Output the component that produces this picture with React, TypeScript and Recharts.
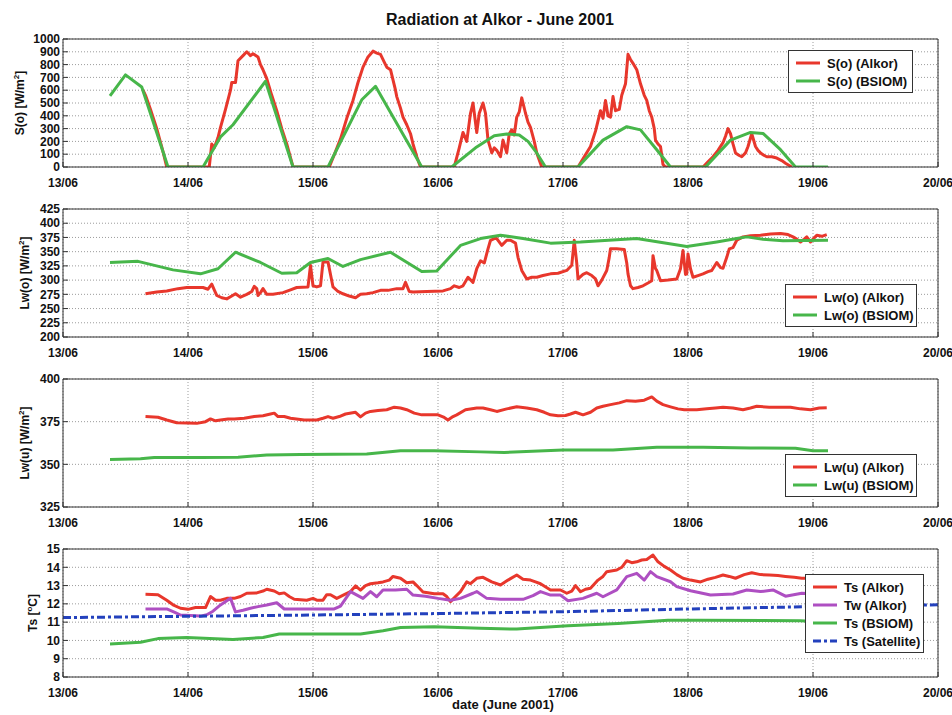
import React from "react";
import { LineChart, Line, XAxis, YAxis, CartesianGrid, Legend } from "recharts";

type Pt = [number, number];

// x axis: day of June 2001
const dayTicks = [13, 14, 15, 16, 17, 18, 19, 20];

// y ticks of the four panels
const soTicks = [0, 100, 200, 300, 400, 500, 600, 700, 800, 900, 1000];
const lwoTicks = [200, 225, 250, 275, 300, 325, 350, 375, 400, 425];
const lwuTicks = [325, 350, 375, 400];
const tsTicks = [8, 9, 10, 11, 12, 13, 14, 15];

// S(o) shortwave
const soAlkor: Pt[] = [
  [13.64, 600], [13.66, 560], [13.7, 450], [13.75, 300], [13.8, 120], [13.83, 0], [14.17, 0],
  [14.19, 180], [14.21, 150], [14.24, 230], [14.26, 310], [14.3, 450], [14.34, 600], [14.35, 660],
  [14.38, 660], [14.4, 830], [14.44, 870], [14.47, 900], [14.5, 870], [14.52, 885], [14.56, 860],
  [14.58, 800], [14.6, 760], [14.63, 690], [14.67, 560], [14.71, 440], [14.75, 300], [14.79, 180],
  [14.84, 0], [15.13, 0], [15.18, 120], [15.22, 220], [15.27, 380], [15.32, 520], [15.36, 660],
  [15.4, 780], [15.44, 860], [15.48, 905], [15.51, 890], [15.54, 880], [15.57, 820], [15.59, 780],
  [15.62, 760], [15.64, 680], [15.66, 600], [15.67, 550], [15.7, 460], [15.72, 390], [15.75, 330],
  [15.78, 260], [15.8, 180], [15.83, 80], [15.86, 0], [16.13, 0], [16.17, 150], [16.2, 270],
  [16.23, 200], [16.26, 420], [16.28, 500], [16.31, 270], [16.33, 420], [16.36, 500], [16.38, 420],
  [16.4, 210], [16.43, 110], [16.45, 150], [16.47, 130], [16.5, 80], [16.52, 210], [16.55, 110],
  [16.57, 260], [16.59, 290], [16.61, 250], [16.63, 390], [16.65, 430], [16.67, 540], [16.7, 420],
  [16.72, 350], [16.74, 310], [16.77, 200], [16.79, 110], [16.83, 0], [17.12, 0], [17.17, 80],
  [17.22, 160], [17.26, 280], [17.3, 440], [17.32, 380], [17.34, 520], [17.36, 400], [17.38, 390],
  [17.4, 550], [17.42, 440], [17.45, 450], [17.47, 560], [17.5, 650], [17.52, 880], [17.54, 840],
  [17.56, 810], [17.59, 760], [17.62, 650], [17.65, 560], [17.67, 520], [17.69, 440], [17.71, 390],
  [17.73, 300], [17.74, 210], [17.76, 180], [17.78, 160], [17.8, 20], [17.82, 0], [18.12, 0],
  [18.16, 40], [18.2, 80], [18.24, 130], [18.28, 190], [18.3, 240], [18.32, 300], [18.34, 260],
  [18.36, 180], [18.38, 110], [18.41, 90], [18.43, 80], [18.46, 110], [18.48, 160], [18.51, 260],
  [18.54, 160], [18.56, 130], [18.58, 110], [18.61, 90], [18.63, 80], [18.67, 80], [18.71, 70],
  [18.75, 50], [18.78, 30], [18.83, 0],
];
const soBsiom: Pt[] = [
  [13.376, 555], [13.5, 720], [13.63, 625], [13.84, 0], [14.12, 0], [14.26, 235], [14.36, 330],
  [14.62, 670], [14.84, 0], [15.12, 0], [15.39, 525], [15.5, 630], [15.87, 0], [16.11, 0],
  [16.3, 150], [16.45, 245], [16.55, 258], [16.65, 250], [16.72, 200], [16.79, 110], [16.86, 0],
  [17.12, 0], [17.32, 210], [17.51, 315], [17.62, 290], [17.75, 135], [17.86, 0], [18.14, 0],
  [18.34, 210], [18.5, 270], [18.6, 262], [18.74, 135], [18.86, 0], [19.12, 0],
];

// Lw(o) longwave down
const lwoAlkor: Pt[] = [
  [13.66, 276], [13.75, 279], [13.83, 281], [13.92, 285], [13.99, 287], [14.12, 287], [14.16, 284],
  [14.19, 293], [14.21, 283], [14.23, 273], [14.27, 269], [14.31, 267], [14.35, 272], [14.38, 276],
  [14.42, 270], [14.47, 275], [14.51, 280], [14.53, 289], [14.55, 285], [14.56, 273], [14.58, 278],
  [14.6, 285], [14.63, 275], [14.68, 275], [14.76, 278], [14.82, 283], [14.87, 287], [14.96, 288],
  [14.98, 326], [15.0, 290], [15.03, 288], [15.06, 290], [15.08, 332], [15.12, 332], [15.14, 310],
  [15.16, 288], [15.2, 280], [15.24, 276], [15.29, 272], [15.34, 269], [15.38, 275], [15.43, 276],
  [15.48, 278], [15.54, 282], [15.6, 282], [15.67, 285], [15.72, 285], [15.74, 296], [15.77, 280],
  [15.8, 279], [15.91, 280], [16.04, 281], [16.1, 285], [16.13, 290], [16.17, 287], [16.2, 290],
  [16.24, 305], [16.28, 296], [16.31, 320], [16.34, 334], [16.37, 330], [16.4, 355], [16.42, 370],
  [16.45, 373], [16.47, 373], [16.51, 361], [16.55, 370], [16.58, 370], [16.62, 365], [16.64, 340],
  [16.67, 317], [16.71, 302], [16.75, 305], [16.79, 305], [16.84, 308], [16.9, 311], [16.96, 312],
  [17.03, 317], [17.07, 326], [17.09, 370], [17.11, 330], [17.12, 302], [17.16, 310], [17.19, 313],
  [17.23, 308], [17.26, 302], [17.28, 290], [17.31, 300], [17.35, 317], [17.37, 340], [17.38, 355],
  [17.43, 355], [17.49, 354], [17.51, 330], [17.52, 311], [17.54, 290], [17.56, 285], [17.6, 287],
  [17.64, 290], [17.68, 295], [17.71, 299], [17.72, 343], [17.74, 320], [17.75, 317], [17.78, 299],
  [17.84, 300], [17.91, 302], [17.94, 320], [17.96, 352], [17.98, 310], [17.99, 311], [18.0, 346],
  [18.02, 320], [18.04, 305], [18.08, 308], [18.12, 311], [18.16, 315], [18.19, 317], [18.23, 331],
  [18.26, 322], [18.28, 321], [18.31, 340], [18.33, 355], [18.36, 357], [18.39, 370], [18.44, 376],
  [18.5, 378], [18.58, 379], [18.66, 381], [18.74, 382], [18.8, 380], [18.84, 376], [18.87, 372],
  [18.9, 367], [18.93, 372], [18.95, 376], [18.98, 367], [19.0, 372], [19.03, 379], [19.07, 377],
  [19.11, 380],
];
const lwoBsiom: Pt[] = [
  [13.376, 331], [13.6, 333], [13.88, 318], [14.1, 311], [14.24, 320], [14.38, 349], [14.58, 331],
  [14.75, 312], [14.87, 313], [14.98, 331], [15.12, 338], [15.24, 324], [15.38, 336], [15.62, 349],
  [15.87, 315], [15.99, 316], [16.18, 361], [16.34, 373], [16.5, 379], [16.68, 373], [16.9, 365],
  [17.14, 367], [17.59, 373], [17.99, 359], [18.23, 367], [18.39, 373], [18.47, 376], [18.6, 372],
  [18.76, 369], [19.12, 370],
];

// Lw(u) longwave up
const lwuAlkor: Pt[] = [
  [13.66, 378], [13.76, 377.6], [13.83, 376], [13.91, 374.4], [14.07, 374], [14.14, 375],
  [14.18, 376.6], [14.22, 375.5], [14.26, 376], [14.32, 376.5], [14.37, 376.6], [14.45, 377],
  [14.53, 378], [14.6, 378.5], [14.66, 379.5], [14.69, 380], [14.72, 378], [14.77, 378], [14.82, 377],
  [14.93, 376], [15.03, 376], [15.08, 377], [15.12, 378], [15.16, 377], [15.21, 378], [15.26, 379.5],
  [15.34, 380.5], [15.38, 377.8], [15.42, 380], [15.46, 381], [15.52, 381.5], [15.59, 382],
  [15.65, 383.5], [15.7, 383], [15.75, 382], [15.81, 380], [15.87, 379], [15.94, 379], [16.0, 379],
  [16.05, 377.5], [16.08, 376], [16.12, 378], [16.15, 379], [16.22, 382], [16.31, 383], [16.36, 383],
  [16.42, 382], [16.47, 381], [16.55, 382.5], [16.63, 383.7], [16.71, 383], [16.79, 382],
  [16.85, 380.5], [16.9, 379], [16.96, 378.5], [17.02, 378.6], [17.06, 379.5], [17.1, 380.5],
  [17.16, 379], [17.22, 380.5], [17.27, 383], [17.32, 384], [17.38, 385], [17.45, 386], [17.51, 387.3],
  [17.58, 387], [17.65, 387.6], [17.71, 389.5], [17.75, 387], [17.8, 385], [17.86, 383.7],
  [17.92, 382.5], [17.97, 382], [18.07, 382], [18.15, 382.5], [18.22, 383], [18.28, 383.5],
  [18.36, 383], [18.44, 382], [18.5, 383], [18.55, 384], [18.65, 383.5], [18.74, 383.5],
  [18.82, 383.5], [18.9, 382.5], [18.98, 382], [19.05, 383], [19.11, 383.2],
];
const lwuBsiom: Pt[] = [
  [13.376, 352.9], [13.62, 353.3], [13.73, 354], [14.1, 354], [14.4, 354.2], [14.63, 355.5],
  [14.9, 355.7], [15.43, 356], [15.7, 358], [15.97, 358], [16.34, 357.3], [16.53, 357], [17.0, 358.4],
  [17.4, 358.4], [17.75, 360], [18.12, 360], [18.5, 359.6], [18.86, 359.4], [19.0, 358], [19.12, 358],
];

// surface / water temperature
const tsAlkor: Pt[] = [
  [13.66, 12.52], [13.76, 12.5], [13.83, 12.2], [13.88, 11.95], [13.94, 11.76], [14.0, 11.7],
  [14.06, 11.8], [14.14, 11.8], [14.18, 12.4], [14.22, 12.2], [14.26, 12.2], [14.31, 12.3],
  [14.37, 12.3], [14.42, 12.4], [14.47, 12.58], [14.55, 12.6], [14.6, 12.7], [14.63, 12.8],
  [14.69, 12.7], [14.73, 12.55], [14.77, 12.6], [14.81, 12.4], [14.85, 12.25], [14.95, 12.2],
  [15.0, 12.3], [15.03, 12.2], [15.08, 12.2], [15.11, 12.5], [15.14, 12.5], [15.19, 12.3],
  [15.25, 12.5], [15.3, 12.67], [15.34, 12.98], [15.38, 12.75], [15.42, 13.0], [15.46, 13.1],
  [15.52, 13.15], [15.56, 13.2], [15.61, 13.3], [15.64, 13.5], [15.7, 13.4], [15.75, 13.15],
  [15.8, 13.2], [15.83, 13.0], [15.88, 12.65], [15.97, 12.55], [16.04, 12.55], [16.07, 12.4],
  [16.1, 12.12], [16.14, 12.4], [16.18, 12.67], [16.23, 13.2], [16.26, 13.1], [16.31, 13.4],
  [16.36, 13.45], [16.43, 13.2], [16.5, 13.03], [16.56, 13.3], [16.63, 13.58], [16.68, 13.35],
  [16.74, 13.3], [16.78, 13.2], [16.82, 13.1], [16.9, 12.76], [16.98, 12.76], [17.03, 12.58],
  [17.07, 12.7], [17.1, 13.0], [17.14, 12.66], [17.18, 12.8], [17.22, 12.85], [17.28, 13.3],
  [17.32, 13.5], [17.35, 13.76], [17.43, 13.85], [17.47, 14.0], [17.51, 14.36], [17.55, 14.25],
  [17.59, 14.3], [17.63, 14.4], [17.67, 14.43], [17.72, 14.67], [17.76, 14.3], [17.81, 14.05],
  [17.86, 13.85], [17.91, 13.6], [17.96, 13.4], [18.02, 13.3], [18.1, 13.2], [18.16, 13.35],
  [18.22, 13.45], [18.28, 13.58], [18.33, 13.5], [18.38, 13.4], [18.45, 13.6], [18.51, 13.7],
  [18.58, 13.6], [18.65, 13.58], [18.72, 13.55], [18.78, 13.5], [18.85, 13.45], [18.91, 13.4],
  [19.0, 13.4], [19.12, 13.35],
];
const twAlkor: Pt[] = [
  [13.66, 11.72], [13.83, 11.72], [13.89, 11.55], [13.94, 11.39], [14.1, 11.33], [14.15, 11.4],
  [14.2, 11.6], [14.26, 11.94], [14.34, 12.3], [14.38, 11.56], [14.44, 11.65], [14.5, 11.76],
  [14.56, 11.85], [14.63, 11.94], [14.71, 12.06], [14.77, 11.72], [14.9, 11.72], [15.17, 11.72],
  [15.22, 11.88], [15.3, 12.67], [15.4, 12.3], [15.46, 12.67], [15.51, 12.39], [15.56, 12.76],
  [15.66, 12.76], [15.75, 12.8], [15.8, 12.48], [15.9, 12.42], [16.0, 12.3], [16.1, 12.2],
  [16.18, 12.3], [16.28, 12.58], [16.31, 12.67], [16.39, 12.3], [16.5, 12.25], [16.68, 12.25],
  [16.76, 12.45], [16.82, 12.67], [16.9, 12.48], [16.98, 12.48], [17.04, 12.17], [17.16, 12.3],
  [17.27, 12.58], [17.32, 12.39], [17.43, 12.76], [17.51, 13.49], [17.59, 13.67], [17.65, 13.3],
  [17.7, 13.76], [17.75, 13.49], [17.86, 13.21], [17.91, 12.94], [18.02, 12.72], [18.18, 12.48],
  [18.36, 12.54], [18.47, 12.76], [18.58, 12.67], [18.68, 12.76], [18.78, 12.42], [18.91, 12.58],
  [19.0, 12.55], [19.12, 12.5],
];
const tsBsiom: Pt[] = [
  [13.376, 9.8], [13.62, 9.9], [13.76, 10.1], [13.99, 10.16], [14.36, 10.05], [14.6, 10.16],
  [14.73, 10.35], [15.38, 10.35], [15.56, 10.53], [15.7, 10.71], [15.97, 10.75], [16.34, 10.66],
  [16.63, 10.62], [17.04, 10.8], [17.44, 10.93], [17.84, 11.11], [18.1, 11.11], [18.9, 11.07],
  [19.12, 11.0],
];
const tsSatellite: Pt[] = [
  [13.0, 11.25], [14.0, 11.32], [15.0, 11.39], [16.0, 11.47], [17.0, 11.57], [18.0, 11.72],
  [19.0, 11.85], [20.0, 11.95],
];

const RED = "#e8372c";
const GREEN = "#47b64a";
const PURPLE = "#ae4fc2";
const BLUE = "#2341bd";
const FONT = '"Liberation Sans", Arial, Helvetica, sans-serif';

interface Series {
  name: string;
  data: Pt[];
  color: string;
  dash?: string;
}

interface PanelProps {
  top: number;
  domain: [number, number];
  ticks: number[];
  label: React.ReactNode;
  labelX: number;
  series: Series[];
  legend: { left: number; top: number; width: number };
}

const tickStyle = { fontSize: 12, fontWeight: "bold", fill: "#111", fontFamily: FONT };

function Panel({ top, domain, ticks, label, labelX, series, legend }: PanelProps) {
  const renderLegend = () => (
    <div
      style={{
        width: legend.width,
        background: "#fff",
        border: "1px solid #333",
        padding: "3px 0 2px 0",
        boxSizing: "border-box",
        fontFamily: FONT,
        fontWeight: "bold",
        fontSize: 13,
        color: "#111",
      }}
    >
      {series.map((s) => (
        <div key={s.name} style={{ display: "flex", alignItems: "center", height: 18 }}>
          <svg width={38} height={6} style={{ flex: "none" }}>
            <line x1={7} x2={31} y1={3} y2={3} stroke={s.color} strokeWidth={3} strokeDasharray={s.dash} />
          </svg>
          <span style={{ whiteSpace: "nowrap" }}>{s.name}</span>
        </div>
      ))}
    </div>
  );

  return (
    <div style={{ position: "absolute", left: 0, top, width: 952, height: 170 }}>
      <LineChart width={952} height={170} margin={{ top: 8, right: 13, bottom: 8, left: 23 }}>
        <CartesianGrid stroke="#9c9c9c" strokeDasharray="1 2" />
        <XAxis
          dataKey="t"
          type="number"
          domain={[13, 20]}
          ticks={dayTicks}
          interval={0}
          allowDataOverflow
          height={25}
          tickSize={-5}
          tickMargin={16}
          stroke="#333"
          tick={tickStyle}
          tickFormatter={(d: number) => `${d}/06`}
        />
        <XAxis
          xAxisId="top"
          orientation="top"
          type="number"
          domain={[13, 20]}
          ticks={dayTicks}
          interval={0}
          height={1}
          tickSize={-5}
          stroke="#333"
          tick={false}
        />
        <YAxis
          type="number"
          domain={domain}
          ticks={ticks}
          interval={0}
          allowDataOverflow
          width={40}
          tickSize={-5}
          tickMargin={8}
          stroke="#333"
          tick={tickStyle}
        />
        <YAxis
          yAxisId="right"
          orientation="right"
          type="number"
          domain={domain}
          ticks={ticks}
          interval={0}
          width={1}
          tickSize={-5}
          stroke="#333"
          tick={false}
        />
        {series.map((s) => (
          <Line
            key={s.name}
            name={s.name}
            data={s.data.map(([t, v]) => ({ t, v }))}
            dataKey="v"
            type="linear"
            stroke={s.color}
            strokeWidth={3}
            strokeDasharray={s.dash}
            strokeLinejoin="round"
            dot={false}
            activeDot={false}
            isAnimationActive={false}
          />
        ))}
        <Legend
          layout="vertical"
          align="center"
          verticalAlign="middle"
          wrapperStyle={{ left: legend.left, top: legend.top, width: legend.width }}
          content={renderLegend}
        />
      </LineChart>
      <div
        style={{
          position: "absolute",
          left: labelX,
          top: 73,
          transform: "translate(-50%, -50%) rotate(-90deg)",
          whiteSpace: "nowrap",
          fontFamily: FONT,
          fontWeight: "bold",
          fontSize: 12,
          lineHeight: "14px",
          color: "#111",
        }}
      >
        {label}
      </div>
    </div>
  );
}

const sup = (s: string) => <sup style={{ fontSize: 8, lineHeight: 0 }}>{s}</sup>;

export default function App() {
  return (
    <div style={{ position: "absolute", left: 0, top: 0, width: 952, height: 715, background: "#fff" }}>
      <div
        style={{
          position: "absolute",
          left: 0,
          width: 1000,
          top: 11,
          textAlign: "center",
          fontFamily: FONT,
          fontWeight: "bold",
          fontSize: 16,
          color: "#111",
        }}
      >
        Radiation at Alkor - June 2001
      </div>
      <Panel
        top={30}
        domain={[0, 1000]}
        ticks={soTicks}
        label={<>S(o) [W/m{sup("2")}]</>}
        labelX={20}
        series={[
          { name: "S(o) (Alkor)", data: soAlkor, color: RED },
          { name: "S(o) (BSIOM)", data: soBsiom, color: GREEN },
        ]}
        legend={{ left: 788, top: 20, width: 125 }}
      />
      <Panel
        top={200}
        domain={[200, 425]}
        ticks={lwoTicks}
        label={<>Lw(o) [W/m{sup("2")}]</>}
        labelX={25}
        series={[
          { name: "Lw(o) (Alkor)", data: lwoAlkor, color: RED },
          { name: "Lw(o) (BSIOM)", data: lwoBsiom, color: GREEN },
        ]}
        legend={{ left: 785, top: 84, width: 132 }}
      />
      <Panel
        top={370}
        domain={[325, 400]}
        ticks={lwuTicks}
        label={<>Lw(u) [W/m{sup("2")}]</>}
        labelX={25}
        series={[
          { name: "Lw(u) (Alkor)", data: lwuAlkor, color: RED },
          { name: "Lw(u) (BSIOM)", data: lwuBsiom, color: GREEN },
        ]}
        legend={{ left: 785, top: 84, width: 132 }}
      />
      <Panel
        top={540}
        domain={[8, 15]}
        ticks={tsTicks}
        label={<>Ts [{sup("o")}C]</>}
        labelX={33}
        series={[
          { name: "Ts (Alkor)", data: tsAlkor, color: RED },
          { name: "Tw (Alkor)", data: twAlkor, color: PURPLE },
          { name: "Ts (BSIOM)", data: tsBsiom, color: GREEN },
          { name: "Ts (Satellite)", data: tsSatellite, color: BLUE, dash: "8 3 3 3" },
        ]}
        legend={{ left: 805, top: 34, width: 119 }}
      />
      <div
        style={{
          position: "absolute",
          left: 0,
          width: 1006,
          top: 697,
          textAlign: "center",
          fontFamily: FONT,
          fontWeight: "bold",
          fontSize: 13,
          color: "#111",
        }}
      >
        date (June 2001)
      </div>
    </div>
  );
}
